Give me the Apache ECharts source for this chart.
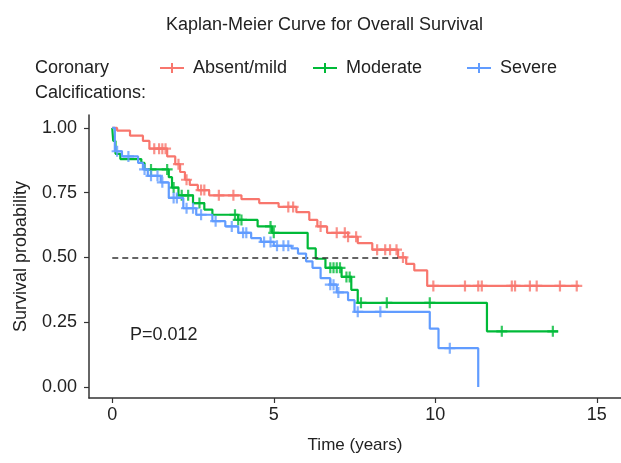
<!DOCTYPE html>
<html>
<head>
<meta charset="utf-8">
<script src="https://cdn.jsdelivr.net/npm/echarts@6/dist/echarts.min.js"></script>
<style>
  html, body { margin: 0; padding: 0; background: #fff; }
  #chart { width: 621px; height: 463px; }
</style>
</head>
<body>
<div id="chart"></div>
<script>
// step knots: time (years) where survival drops, and the new survival value
var groups = ['Absent/mild', 'Moderate', 'Severe'];
var colors = ['#F8766D', '#00BA38', '#619CFF'];

var mildTimes = [0, 0.15, 0.55, 0.95, 1.15, 1.7, 1.95, 2.1, 2.25, 2.4, 2.65, 3.0, 4.0, 4.55, 5.15, 5.7, 6.1, 6.35, 6.65, 7.3, 7.6, 8.05, 8.85, 9.1, 9.35, 9.75];
var mildSurv  = [1.0, 0.99, 0.97, 0.95, 0.92, 0.89, 0.86, 0.83, 0.80, 0.78, 0.76, 0.74, 0.725, 0.71, 0.695, 0.675, 0.645, 0.62, 0.595, 0.58, 0.555, 0.53, 0.50, 0.475, 0.45, 0.39];
var mildEnd = 14.45;
var mildCens = [1.3, 1.45, 1.55, 1.65, 2.05, 2.3, 2.75, 2.85, 3.3, 3.75, 5.45, 5.6, 6.45, 6.95, 7.2, 7.3, 7.55, 8.2, 8.45, 8.6, 8.8, 9.0, 9.94, 10.92, 11.33, 11.44, 12.37, 12.47, 12.93, 13.14, 13.86, 14.38];

var modTimes = [0, 0.03, 0.1, 0.25, 0.9, 1.0, 1.75, 1.85, 2.05, 2.5, 2.85, 3.1, 3.9, 4.5, 4.95, 6.05, 6.3, 6.6, 7.1, 7.4, 7.6, 11.6];
var modSurv  = [1.0, 0.95, 0.90, 0.88, 0.865, 0.84, 0.81, 0.77, 0.74, 0.71, 0.685, 0.665, 0.645, 0.62, 0.595, 0.535, 0.495, 0.46, 0.425, 0.375, 0.325, 0.215];
var modEnd = 13.8;
var modCens = [1.2, 1.7, 1.9, 2.15, 2.35, 2.7, 3.8, 3.9, 4.0, 4.9, 5.0, 6.75, 6.85, 6.95, 7.05, 7.25, 7.35, 7.7, 8.5, 9.83, 12.06, 13.64];

var sevTimes = [0, 0.08, 0.3, 0.8, 0.95, 1.1, 1.5, 1.75, 2.2, 2.6, 3.1, 3.5, 3.9, 4.3, 4.6, 5.0, 5.55, 5.75, 6.0, 6.2, 6.45, 6.75, 6.95, 7.3, 7.5, 9.83, 10.1, 11.33];
var sevSurv  = [1.0, 0.91, 0.89, 0.865, 0.84, 0.815, 0.79, 0.73, 0.69, 0.665, 0.64, 0.62, 0.595, 0.575, 0.56, 0.545, 0.535, 0.515, 0.485, 0.46, 0.42, 0.395, 0.365, 0.335, 0.29, 0.225, 0.15, 0.0];
var sevEnd = 11.33;
var sevCens = [0.15, 0.5, 1.0, 1.2, 1.4, 1.55, 1.9, 2.0, 2.3, 2.5, 2.75, 3.2, 3.7, 4.05, 4.15, 4.7, 4.9, 5.1, 5.3, 5.45, 6.75, 6.85, 7.0, 7.6, 8.3, 10.45];

var xTicks = [0, 5, 10, 15];
var yTicks = [0, 0.25, 0.5, 0.75, 1.0];
var pText = 'P=0.012';

var FONT = '"Liberation Sans", Arial, sans-serif';
var plus = 'path://M4,0 H6 V4 H10 V6 H6 V10 H4 V6 H0 V4 H4 Z';
var legendIcon = 'path://M0,4 H24 V6 H0 Z M11,0 H13 V10 H11 Z';

function survAt(times, surv, t) {
  var s = surv[0];
  for (var i = 0; i < times.length; i++) {
    if (times[i] <= t) s = surv[i];
  }
  return s;
}

var curves = [
  { t: mildTimes, s: mildSurv, end: mildEnd, c: mildCens },
  { t: modTimes, s: modSurv, end: modEnd, c: modCens },
  { t: sevTimes, s: sevSurv, end: sevEnd, c: sevCens }
];

// median of the absent/mild group for the dashed reference line
var medianT = 0;
for (var i = 0; i < mildTimes.length; i++) {
  if (mildSurv[i] <= 0.5) { medianT = mildTimes[i]; break; }
}

var series = [];
curves.forEach(function (g, k) {
  var pts = [];
  for (var i = 0; i < g.t.length; i++) pts.push([g.t[i], g.s[i]]);
  pts.push([g.end, g.s[g.s.length - 1]]);
  var line = {
    name: groups[k],
    type: 'line',
    step: 'end',
    data: pts,
    symbol: 'none',
    color: colors[k],
    lineStyle: { width: 2.2, color: colors[k] },
    z: 3 + k,
    animation: false
  };
  if (k === 0) {
    line.markLine = {
      silent: true,
      symbol: 'none',
      label: { show: false },
      lineStyle: { color: '#333', type: [6, 4], width: 1.7 },
      data: [[{ coord: [0, 0.5] }, { coord: [medianT, 0.5] }]]
    };
  }
  series.push(line);
  series.push({
    name: groups[k],
    type: 'scatter',
    data: g.c.map(function (t) { return [t, survAt(g.t, g.s, t)]; }),
    symbol: plus,
    symbolSize: 11,
    itemStyle: { color: colors[k] },
    z: 3 + k,
    animation: false
  });
});

var legendLefts = [160, 313, 467];
var legends = groups.map(function (name, k) {
  return {
    data: [{ name: name, icon: legendIcon }],
    left: legendLefts[k],
    top: 59,
    padding: 0,
    itemWidth: 24,
    itemHeight: 10,
    selectedMode: false,
    textStyle: { fontSize: 18, color: '#222', fontFamily: FONT, padding: [0, 0, 0, 4] }
  };
});

var chart = echarts.init(document.getElementById('chart'));
chart.setOption({
  backgroundColor: '#fff',
  animation: false,
  textStyle: { fontFamily: FONT },
  title: {
    text: 'Kaplan-Meier Curve for Overall Survival',
    left: 161,
    top: 11,
    textStyle: { fontSize: 18, fontWeight: 'normal', color: '#222', fontFamily: FONT }
  },
  legend: legends,
  grid: { left: 89, right: 0, top: 115, bottom: 65 },
  xAxis: {
    type: 'value',
    min: -0.72,
    max: 15.75,
    name: 'Time (years)',
    nameLocation: 'middle',
    nameGap: 39,
    nameTextStyle: { fontSize: 17, color: '#222', fontFamily: FONT },
    axisLine: { onZero: false, lineStyle: { color: '#333', width: 1.5 } },
    axisTick: { customValues: xTicks, length: 5, lineStyle: { color: '#333', width: 1.2 } },
    axisLabel: { customValues: xTicks, fontSize: 18, color: '#222', margin: 8, fontFamily: FONT },
    splitLine: { show: false }
  },
  yAxis: {
    type: 'value',
    min: -0.0425,
    max: 1.05,
    name: 'Survival probability',
    nameLocation: 'middle',
    nameGap: 59,
    nameTextStyle: { fontSize: 18, color: '#222', fontFamily: FONT },
    axisLine: { show: true, onZero: false, lineStyle: { color: '#333', width: 1.5 } },
    axisTick: { show: true, customValues: yTicks, length: 5, lineStyle: { color: '#333', width: 1.2 } },
    axisLabel: {
      customValues: yTicks, fontSize: 18, color: '#222', margin: 12, fontFamily: FONT,
      formatter: function (v) { return v.toFixed(2); }
    },
    splitLine: { show: false }
  },
  series: series
});

var pPos = chart.convertToPixel({ gridIndex: 0 }, [0.55, 0.2]);
chart.setOption({
  graphic: [
    {
      type: 'text', left: 35, top: 56,
      style: { text: 'Coronary\nCalcifications:', fontSize: 18, lineHeight: 25, fill: '#222', font: '18px ' + FONT }
    },
    {
      type: 'text', x: pPos[0], y: pPos[1],
      style: { text: pText, fill: '#222', font: '18px ' + FONT, verticalAlign: 'middle', align: 'left' }
    }
  ]
});
</script>
</body>
</html>
